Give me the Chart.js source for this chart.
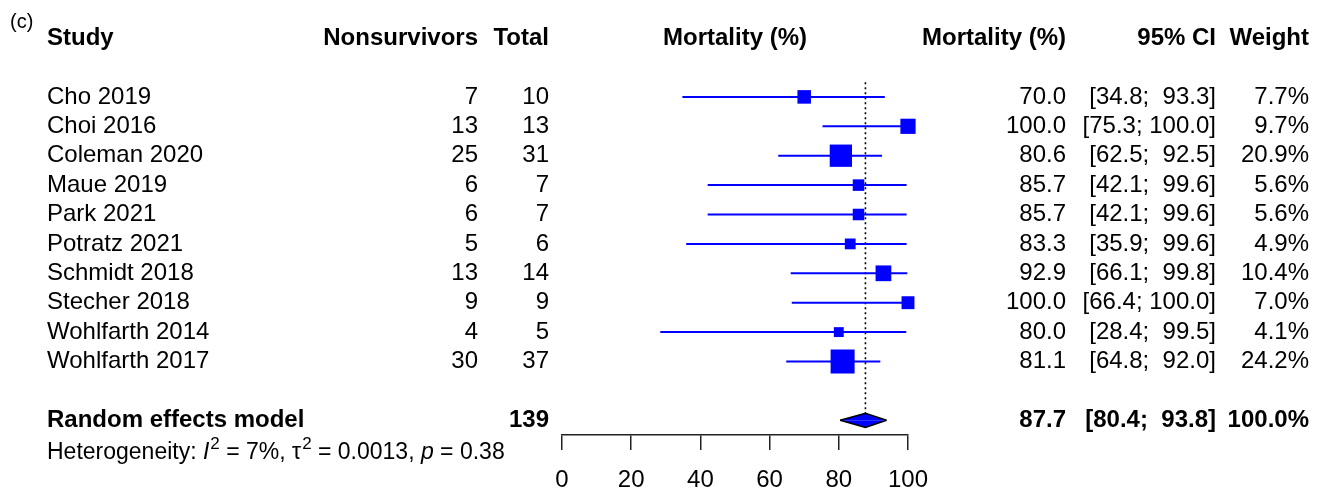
<!DOCTYPE html>
<html>
<head>
<meta charset="utf-8">
<script src="https://cdn.jsdelivr.net/npm/chart.js@4"></script>
<style>
  html, body { margin: 0; padding: 0; background: #fff; }
  #forest { display: block; }
</style>
</head>
<body>
<canvas id="forest" width="1323" height="491"></canvas>
<script>
const studies = ['Cho 2019', 'Choi 2016', 'Coleman 2020', 'Maue 2019', 'Park 2021',
  'Potratz 2021', 'Schmidt 2018', 'Stecher 2018', 'Wohlfarth 2014', 'Wohlfarth 2017'];
const nonsurvivors = [7, 13, 25, 6, 6, 5, 13, 9, 4, 30];
const totals = [10, 13, 31, 7, 7, 6, 14, 9, 5, 37];
const mortality = [70.0, 100.0, 80.6, 85.7, 85.7, 83.3, 92.9, 100.0, 80.0, 81.1];
const ciLower = [34.8, 75.3, 62.5, 42.1, 42.1, 35.9, 66.1, 66.4, 28.4, 64.8];
const ciUpper = [93.3, 100.0, 92.5, 99.6, 99.6, 99.6, 99.8, 100.0, 99.5, 92.0];
const weights = [7.7, 9.7, 20.9, 5.6, 5.6, 4.9, 10.4, 7.0, 4.1, 24.2];

const pooledTotal = 139;
const pooledEst = 87.7;
const pooledLower = 80.4;
const pooledUpper = 93.8;
const pooledWeight = 100.0;

const tickValues = [0, 20, 40, 60, 80, 100];

const FONT = "'Liberation Sans', Arial, Helvetica, sans-serif";
const BLUE = '#0000ff';
const SUMMARY_ROW = 12;
const DIAMOND_H = 0.24; // half height in rows

// text column anchors (px)
const COL = { study: 47, events: 478, total: 549, est: 1066, ci: 1216, weight: 1309 };

Chart.defaults.font.family = FONT;

function pad5(v) {
  const s = v.toFixed(1);
  return s.length < 5 ? ' ' + s : s;
}
function ciText(lo, up) {
  return '[' + lo.toFixed(1) + '; ' + pad5(up) + ']';
}

const rows = studies.map((s, i) => i + 1);

const ciSets = studies.map((s, i) => ({
  data: [{ x: ciLower[i], y: rows[i] }, { x: ciUpper[i], y: rows[i] }],
  borderColor: BLUE,
  borderWidth: 2,
  pointRadius: 0,
  fill: false,
  clip: false
}));

const squares = {
  data: mortality.map((m, i) => ({ x: m, y: rows[i] })),
  showLine: false,
  pointStyle: 'rect',
  pointRadius: ctx => 3.45 * Math.sqrt(weights[ctx.dataIndex]),
  pointBackgroundColor: BLUE,
  pointBorderColor: BLUE,
  pointBorderWidth: 0,
  clip: false
};

const refLine = {
  data: [{ x: pooledEst, y: 0.5 }, { x: pooledEst, y: SUMMARY_ROW - DIAMOND_H }],
  borderColor: '#000',
  borderWidth: 1.6,
  borderDash: [2, 3],
  pointRadius: 0,
  fill: false,
  clip: false
};

function diamondHalf(dir) {
  return {
    data: [
      { x: pooledLower, y: SUMMARY_ROW },
      { x: pooledEst, y: SUMMARY_ROW + dir * DIAMOND_H },
      { x: pooledUpper, y: SUMMARY_ROW }
    ],
    borderColor: '#000',
    borderWidth: 1.5,
    backgroundColor: BLUE,
    pointRadius: 0,
    fill: { value: SUMMARY_ROW },
    clip: false
  };
}

const forestText = {
  id: 'forestText',
  afterDraw(chart) {
    const ctx = chart.ctx;
    const ys = chart.scales.y;
    const xs = chart.scales.x;
    ctx.save();
    ctx.fillStyle = '#000';
    ctx.textBaseline = 'middle';

    function put(str, px, row, align, bold, size) {
      ctx.font = (bold ? 'bold ' : '') + (size || 24) + 'px ' + FONT;
      ctx.textAlign = align;
      ctx.fillText(str, px, ys.getPixelForValue(row));
    }

    // panel letter
    ctx.font = '20px ' + FONT;
    ctx.textAlign = 'left';
    ctx.textBaseline = 'alphabetic';
    ctx.fillText('(c)', 10, 28);
    ctx.textBaseline = 'middle';

    // header
    const h = -1;
    put('Study', COL.study, h, 'left', true);
    put('Nonsurvivors', COL.events, h, 'right', true);
    put('Total', COL.total, h, 'right', true);
    put('Mortality (%)', xs.getPixelForValue(50), h, 'center', true);
    put('Mortality (%)', COL.est, h, 'right', true);
    put('95% CI', COL.ci, h, 'right', true);
    put('Weight', COL.weight, h, 'right', true);

    studies.forEach((s, i) => {
      const r = rows[i];
      put(s, COL.study, r, 'left');
      put(String(nonsurvivors[i]), COL.events, r, 'right');
      put(String(totals[i]), COL.total, r, 'right');
      put(mortality[i].toFixed(1), COL.est, r, 'right');
      put(ciText(ciLower[i], ciUpper[i]), COL.ci, r, 'right');
      put(weights[i].toFixed(1) + '%', COL.weight, r, 'right');
    });

    put('Random effects model', COL.study, SUMMARY_ROW, 'left', true);
    put(String(pooledTotal), COL.total, SUMMARY_ROW, 'right', true);
    put(pooledEst.toFixed(1), COL.est, SUMMARY_ROW, 'right', true);
    put(ciText(pooledLower, pooledUpper), COL.ci, SUMMARY_ROW, 'right', true);
    put(pooledWeight.toFixed(1) + '%', COL.weight, SUMMARY_ROW, 'right', true);

    // heterogeneity line with italics and superscripts
    const hy = ys.getPixelForValue(13.1);
    const fs = 23;
    let cx = COL.study;
    ctx.textAlign = 'left';
    const parts = [
      ['Heterogeneity: ', ''], ['I', 'italic '], ['2', 'sup'], [' = 7%, ', ''],
      ['\u03c4', ''], ['2', 'sup'], [' = 0.0013, ', ''], ['p', 'italic '], [' = 0.38', '']
    ];
    parts.forEach(([t, st]) => {
      if (st === 'sup') {
        ctx.font = Math.round(fs * 0.72) + 'px ' + FONT;
        ctx.fillText(t, cx + 1, hy - 8);
        cx += ctx.measureText(t).width + 1;
      } else {
        ctx.font = st + fs + 'px ' + FONT;
        ctx.fillText(t, cx, hy);
        cx += ctx.measureText(t).width;
      }
    });
    ctx.restore();
  }
};

new Chart(document.getElementById('forest'), {
  type: 'line',
  data: { datasets: [...ciSets, squares, refLine, diamondHalf(-1), diamondHalf(1)] },
  options: {
    responsive: false,
    animation: false,
    events: [],
    layout: { padding: { left: 562, right: 415, top: 67.5, bottom: 0 } },
    plugins: { legend: { display: false }, tooltip: { enabled: false } },
    elements: { line: { tension: 0 } },
    scales: {
      x: {
        type: 'linear',
        min: 0,
        max: 100,
        position: 'bottom',
        afterBuildTicks: s => { s.ticks = tickValues.map(v => ({ value: v })); },
        afterFit: s => { s.height = 56; },
        grid: { drawOnChartArea: false, drawTicks: true, tickLength: 15, color: '#222', lineWidth: 1.5 },
        border: { display: true, color: '#222', width: 1.5 },
        ticks: { color: '#000', font: { size: 24 }, padding: 16, maxRotation: 0, autoSkip: false }
      },
      y: { type: 'linear', min: 0, max: 12.5, reverse: true, display: false }
    }
  },
  plugins: [forestText]
});
</script>
</body>
</html>
